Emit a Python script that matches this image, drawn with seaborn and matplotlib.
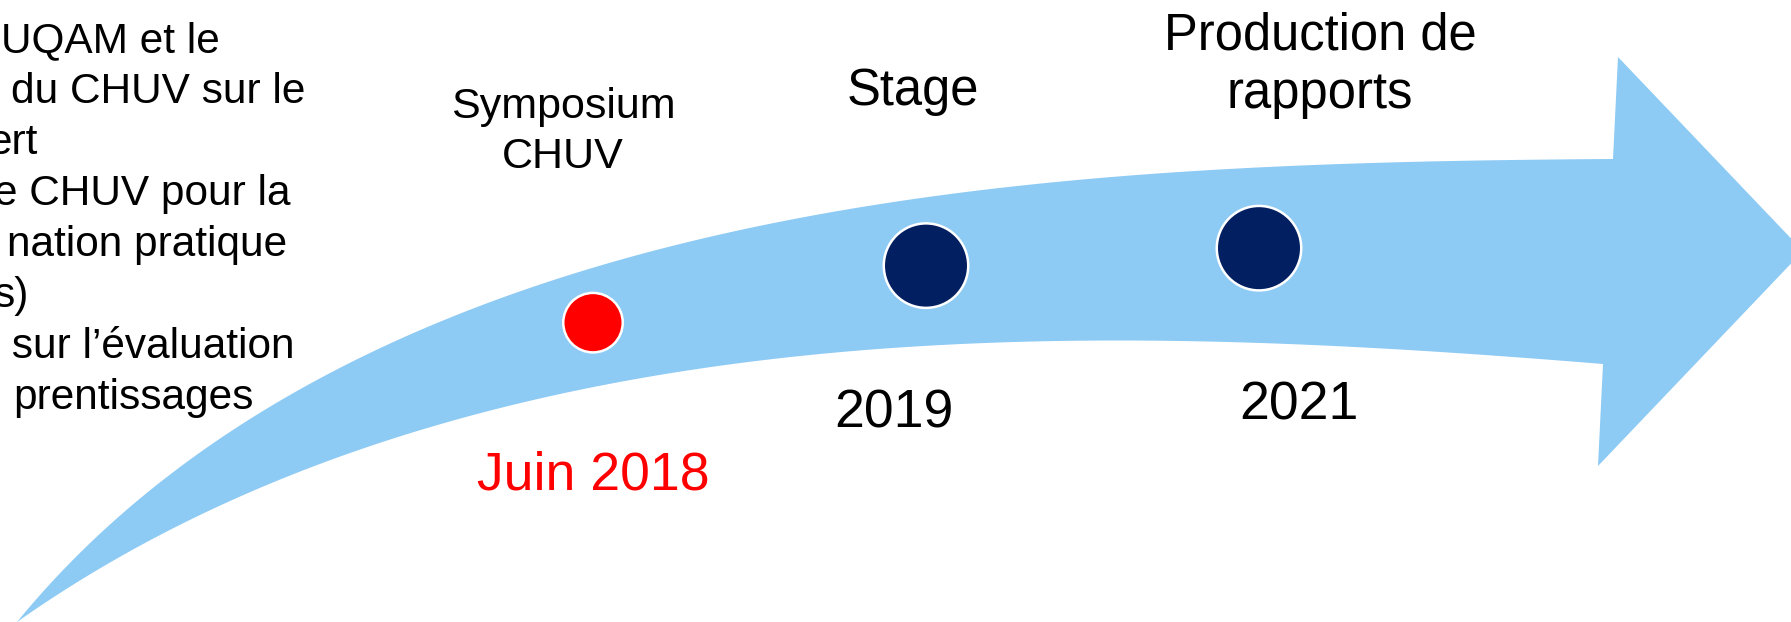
from math import comb

import numpy as np
import pandas as pd
import matplotlib
matplotlib.use("Agg")
import matplotlib.pyplot as plt
import seaborn as sns

# Timeline data
events = ["Symposium\nCHUV", "Stage", "Production de\nrapports"]
dates = ["Juin 2018", "2019", "2021"]
status = ["réalisé", "prévu", "prévu"]

# Left text block (cropped on the left in the original slide)
left_lines = [
    "UQAM et le",
    "du CHUV sur le",
    "ert",
    "e CHUV pour la",
    "nation pratique",
    "s)",
    " sur l\u2019évaluation",
    "prentissages",
]

# Layout (pixels of a 1791x622 canvas)
W, H = 1791, 622
X0, STEP = 593, 333  # pixel of first event, pixels between events
label_dx = [-30, -13, 61]
label_y = [132, 92, 65]
label_size = [31, 36.5, 36.5]
label_spacing = [1.3, 1.25, 1.25]
date_dx = [0, -32, 40]
date_y = [475, 414, 405]
left_right_x = [220, 305, 38, 290, 287, 29, 295, 254]
left_y0, left_dy = 41, 51

ARROW = "#8dcaf4"
NAVY = "#022061"
RED = "#ff0000"

# Arrow outline (pixels)
top_edge = [(17, 622), (67, 565), (130, 514), (200, 455), (240, 425), (300, 392),
            (400, 338), (500, 292), (540, 279), (640, 252), (700, 239), (800, 222),
            (900, 206), (1000, 192), (1100, 179), (1200, 169), (1300, 163),
            (1400, 160), (1500, 158), (1613, 159)]
bottom_edge = [(17, 622), (100, 573), (200, 517), (300, 469), (400, 435), (500, 406),
               (600, 386), (700, 371), (800, 357), (900, 347), (1000, 342),
               (1100, 340), (1200, 342), (1300, 345), (1400, 349), (1500, 355),
               (1603, 364)]
head = [(1618, 57), (1803, 251), (1598, 466)]


def bezier_fit(pts, deg=4, n=300):
    # least-squares Bezier through the traced edge, end points kept fixed
    pts = np.asarray(pts, float)
    d = np.r_[0, np.cumsum(np.hypot(*np.diff(pts, axis=0).T))]
    t = d / d[-1]

    def basis(tt):
        return np.array([[comb(deg, k) * u ** k * (1 - u) ** (deg - k)
                          for k in range(deg + 1)] for u in tt])

    B = basis(t)
    rhs = pts - np.outer(B[:, 0], pts[0]) - np.outer(B[:, -1], pts[-1])
    inner, *_ = np.linalg.lstsq(B[:, 1:-1], rhs, rcond=None)
    ctrl = np.vstack([pts[0], inner, pts[-1]])
    return basis(np.linspace(0, 1, n)) @ ctrl


def to_x(px):
    return (np.asarray(px, float) - X0) / STEP


top = bezier_fit(top_edge)
bottom = bezier_fit(bottom_edge)
outline = np.vstack([top, np.asarray(head, float), bottom[::-1]])

# Event table: ordinal position along the arrow, sitting inside the band
df = pd.DataFrame({"event": events, "date": dates, "status": status})
df["pos"] = np.arange(len(df))
px = X0 + STEP * df["pos"]
y_top = np.interp(px, top[:, 0], top[:, 1])
y_bot = np.interp(px, bottom[:, 0], bottom[:, 1])
df["y"] = y_top + 0.46 * (y_bot - y_top)

sns.set_theme(style="white")
plt.rcParams["font.family"] = ["Liberation Sans", "DejaVu Sans"]

fig = plt.figure(figsize=(W / 100, H / 100), dpi=100)
ax = fig.add_axes([0, 0, 1, 1])
ax.set_xlim(to_x(0), to_x(W))
ax.set_ylim(H, 0)
ax.axis("off")

ax.fill(to_x(outline[:, 0]), outline[:, 1], color=ARROW, lw=0, zorder=1)

sns.scatterplot(
    data=df, x="pos", y="y", hue="status", size="status",
    palette={"réalisé": RED, "prévu": NAVY},
    sizes={"réalisé": 1835, "prévu": 3700},
    edgecolor="white", linewidth=1.8, legend=False, ax=ax, zorder=3,
)

for i, row in df.iterrows():
    ax.text(row["pos"] + label_dx[i] / STEP, label_y[i], row["event"],
            ha="center", va="center", linespacing=label_spacing[i],
            fontsize=label_size[i], color="black")
    ax.text(row["pos"] + date_dx[i] / STEP, date_y[i], row["date"],
            ha="center", va="center", fontsize=38.5,
            color=RED if row["status"] == "réalisé" else "black")

for i, line in enumerate(left_lines):
    ax.text(to_x(left_right_x[i]), left_y0 + left_dy * i, line,
            ha="right", va="center", fontsize=30.5, color="black")

ax.set_xlim(to_x(0), to_x(W))
ax.set_ylim(H, 0)
fig.savefig("out.png", dpi=100)
